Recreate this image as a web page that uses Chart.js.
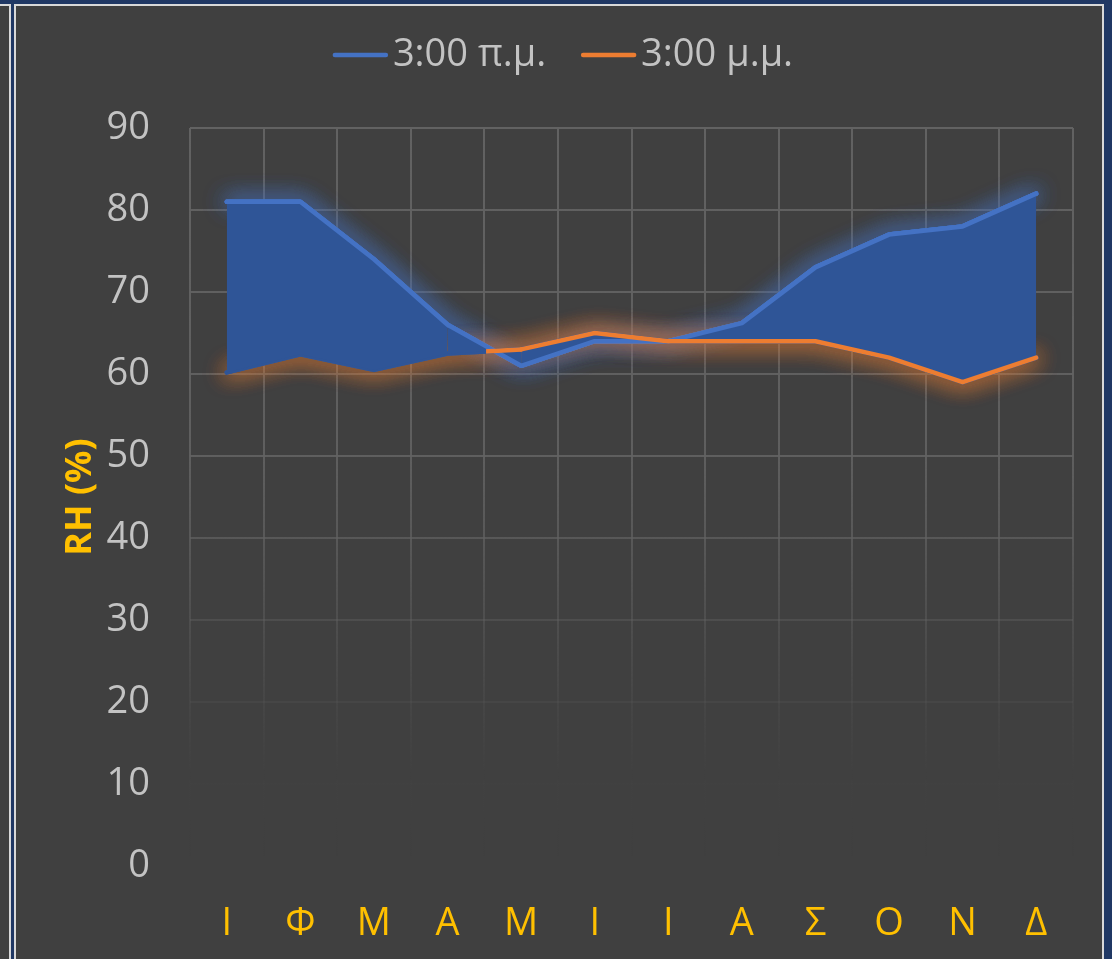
<!DOCTYPE html>
<html>
<head>
<meta charset="utf-8">
<title>RH (%)</title>
<script src="https://cdn.jsdelivr.net/npm/chart.js@4.4.1/dist/chart.umd.min.js"></script>
<style>
  html, body { margin: 0; padding: 0; }
  body { width: 1112px; height: 959px; background: #203864; position: relative; overflow: hidden; }
  #prev { position: absolute; left: 0; top: 4px; width: 9px; height: 955px; background: #404040;
          border-right: 2px solid #d9d9d9; border-top: 2px solid #d9d9d9; }
  #frame { position: absolute; left: 14px; top: 4px; width: 1086px; height: 955px; background: #404040;
           border: 2px solid #d9d9d9; border-bottom: none; }
  canvas { display: block; }
</style>
</head>
<body>
<div id="prev"></div>
<div id="frame"><canvas id="rh" width="1086" height="953"></canvas></div>
<script>
// Months (Greek initials) and mean relative humidity at 3:00 a.m. / 3:00 p.m.
const months   = ['Ι', 'Φ', 'Μ', 'Α', 'Μ', 'Ι', 'Ι', 'Α', 'Σ', 'Ο', 'Ν', 'Δ'];
const rhMorning   = [81, 81, 74, 66, 61, 64, 64, 66.2, 73, 77, 78, 82];
const rhAfternoon = [60.2, 62.4, 60.5, 62.5, 63, 65, 64, 64, 64, 62, 59, 62];
const seriesNames = ['3:00 π.μ.', '3:00 μ.μ.'];
const yAxis = { min: 0, max: 90, step: 10, title: 'RH (%)' };

const BLUE = '#4472C4', ORANGE = '#ED7D31', BAND = '#2F5597';
const TICK = '#C3C3C3', GOLD = '#FFC000';
const FONT = '"Open Sans", "Noto Sans", sans-serif';

const canvas = document.getElementById('rh');

// Grid lines fade out towards the bottom of the plot.
function gridColor(ctx) {
  const chart = ctx.chart, a = chart.chartArea;
  if (!a) return 'rgba(98,98,98,1)';
  const g = chart.ctx.createLinearGradient(0, a.top, 0, a.bottom);
  g.addColorStop(0.00, 'rgba(98,98,98,1)');
  g.addColorStop(0.44, 'rgba(98,98,98,0.9)');
  g.addColorStop(0.56, 'rgba(98,98,98,0.7)');
  g.addColorStop(0.67, 'rgba(98,98,98,0.42)');
  g.addColorStop(0.78, 'rgba(98,98,98,0.18)');
  g.addColorStop(0.87, 'rgba(98,98,98,0.02)');
  g.addColorStop(1.00, 'rgba(98,98,98,0)');
  return g;
}

// Soft glow: halo datasets are drawn beneath the band, stroked a few times.
const glowPlugin = {
  id: 'glow',
  beforeDatasetDraw(chart, args) {
    const ds = chart.data.datasets[args.index];
    if (!ds.glowColor) return;
    const c = chart.ctx;
    c.save();
    c.shadowColor = ds.glowColor;
    c.shadowBlur = ds.glowBlur || 14;
  },
  afterDatasetDraw(chart, args) {
    const ds = chart.data.datasets[args.index];
    if (!ds.glowColor) return;
    const line = args.meta.dataset;
    for (let i = 1; i < (ds.glowPasses || 1); i++) line.draw(chart.ctx, chart.chartArea);
    chart.ctx.restore();
  }
};

// Legend: short line swatch followed by the series name.
const lineLegend = {
  id: 'lineLegend',
  afterDraw(chart) {
    const c = chart.ctx;
    const items = chart.data.datasets.filter(d => !d.legendSkip);
    const sw = 55, gap = 5, itemGap = 35;
    c.save();
    c.font = '38px ' + FONT;
    const widths = items.map(d => c.measureText(d.label).width);
    const total = widths.reduce((s, w) => s + sw + gap + w, 0) + itemGap * (items.length - 1);
    let x = chart.width / 2 - total / 2 + 4;
    const y = 49;
    items.forEach((d, i) => {
      c.strokeStyle = d.borderColor;
      c.lineWidth = 4.5;
      c.lineCap = 'round';
      c.beginPath();
      c.moveTo(x + 2, y);
      c.lineTo(x + sw - 2, y);
      c.stroke();
      c.fillStyle = TICK;
      c.textBaseline = 'middle';
      c.textAlign = 'left';
      c.fillText(d.label, x + sw + gap, y);
      x += sw + gap + widths[i] + itemGap;
    });
    c.restore();
  }
};

// The afternoon line is hidden under the band for the first months,
// emerging part-way through the Α–Μ segment.
function afternoonSegment(s) {
  if (s.p0DataIndex < 3) return 'rgba(0,0,0,0)';
  if (s.p0DataIndex === 3) {
    const g = canvas.getContext('2d').createLinearGradient(s.p0.x, 0, s.p1.x, 0);
    g.addColorStop(0, 'rgba(237,125,49,0)');
    g.addColorStop(0.52, 'rgba(237,125,49,0)');
    g.addColorStop(0.53, ORANGE);
    g.addColorStop(1, ORANGE);
    return g;
  }
  return undefined;
}

new Chart(canvas, {
  type: 'line',
  data: {
    labels: months,
    datasets: [
      {
        label: seriesNames[0],
        data: rhMorning,
        borderColor: BLUE,
        borderWidth: 4.5,
        backgroundColor: BAND,
        fill: { target: 1 },
        order: 1
      },
      {
        label: seriesNames[1],
        data: rhAfternoon,
        borderColor: ORANGE,
        borderWidth: 4.5,
        fill: false,
        segment: { borderColor: afternoonSegment },
        order: 0
      },
      {
        // blue halo behind the band's upper edge
        label: seriesNames[0],
        data: rhMorning,
        legendSkip: true,
        borderColor: BLUE,
        borderWidth: 4.5,
        fill: false,
        glowColor: 'rgba(68,114,196,1)',
        glowBlur: 22,
        glowPasses: 3,
        order: 3
      },
      {
        // orange halo behind the band's lower edge
        label: seriesNames[1],
        data: rhAfternoon,
        legendSkip: true,
        borderColor: BAND,
        borderWidth: 4.5,
        fill: false,
        glowColor: 'rgba(237,125,49,1)',
        glowBlur: 22,
        glowPasses: 3,
        order: 2
      }
    ]
  },
  options: {
    responsive: false,
    animation: false,
    events: [],
    layout: { padding: { top: 122, right: 29, left: 0, bottom: 0 } },
    elements: {
      point: { radius: 0, hoverRadius: 0 },
      line: { tension: 0, borderJoinStyle: 'round', borderCapStyle: 'round' }
    },
    plugins: {
      legend: { display: false },
      tooltip: { enabled: false },
      title: { display: false }
    },
    scales: {
      x: {
        offset: true,
        grid: { offset: true, color: gridColor, lineWidth: 2, drawTicks: false },
        border: { display: false },
        ticks: { color: GOLD, font: { family: FONT, size: 38 }, padding: 35, autoSkip: false, maxRotation: 0 },
        afterFit(s) { s.height = 93; }
      },
      y: {
        min: yAxis.min,
        max: yAxis.max,
        grid: { color: gridColor, lineWidth: 2, drawTicks: false },
        border: { display: false },
        ticks: { stepSize: yAxis.step, color: TICK, font: { family: FONT, size: 38 }, padding: 40 },
        title: {
          display: true,
          text: yAxis.title,
          color: GOLD,
          font: { family: FONT, size: 36, weight: 'bold' },
          padding: { top: 43, bottom: 0 }
        },
        afterFit(s) { s.width = 174; }
      }
    }
  },
  plugins: [glowPlugin, lineLegend]
});
</script>
</body>
</html>
